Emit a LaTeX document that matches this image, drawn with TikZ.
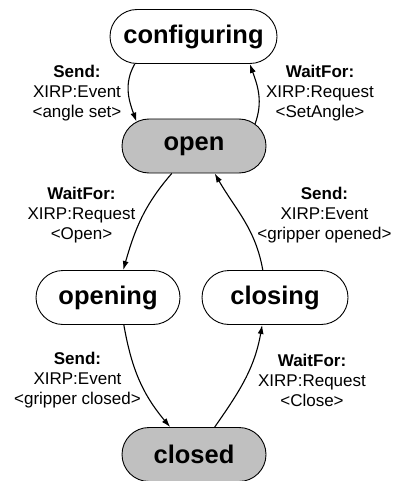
\documentclass[tikz,border=0pt]{standalone}
\usepackage{fontspec}
\setmainfont{Liberation Sans}
\usetikzlibrary{arrows.meta,shapes.misc}
\definecolor{stategray}{RGB}{192,192,192}
\begin{document}
\begin{tikzpicture}[x=1pt,y=1pt,
    state/.style={rounded rectangle, draw, line width=0.9pt, minimum width=144pt,
        minimum height=54pt, inner sep=0pt, font=\fontsize{25.5}{30}\selectfont\bfseries},
    trans/.style={line width=1.1pt, -{Latex[length=9pt,width=6pt]}},
    cond/.style={align=center, inner sep=0pt, font=\fontsize{17}{20}\selectfont}]
    \useasboundingbox (0,0) rectangle (394,-481);
    % states
    \node[state, minimum width=167pt] (configuring) at (193.5,-36.5) {configuring};
    \node[state, fill=stategray] (open) at (194,-146) {open};
    \node[state] (opening) at (108,-297.5) {opening};
    \node[state, minimum width=146pt] (closing) at (275,-297.5) {closing};
    \node[state, fill=stategray] (closed) at (194,-454.5) {closed};
    % transitions
    \draw[trans] (configuring.205) to[out=240,in=110] (open.157);
    \draw[trans] (open.20) to[out=70,in=-70] (configuring.-26);
    \draw[trans] (open.-129) to[out=229,in=74] (opening.61);
    \draw[trans] (closing.114) to[out=100,in=-60] (open.-53);
    \draw[trans] (opening.-60) to[out=-80,in=130] (closed.131);
    \draw[trans] (closed.53) to[out=55,in=-100] (closing.-115);
    % conditions
    \node[cond] (sendset) at (77,-93) {\textbf{Send:}\\XIRP:Event\\<angle set>};
    \node[cond] (waitangle) at (320,-93) {\textbf{WaitFor:}\\XIRP:Request\\<SetAngle>};
    \node[cond] (waitopen) at (81.5,-215) {\textbf{WaitFor:}\\XIRP:Request\\<Open>};
    \node[cond] (sendopened) at (324.5,-215) {\textbf{Send:}\\XIRP:Event\\<gripper opened>};
    \node[cond] (sendclosed) at (77.5,-380) {\textbf{Send:}\\XIRP:Event\\<gripper closed>};
    \node[cond] (waitclose) at (312,-380) {\textbf{WaitFor:}\\XIRP:Request\\<Close>};
\end{tikzpicture}
\end{document}
